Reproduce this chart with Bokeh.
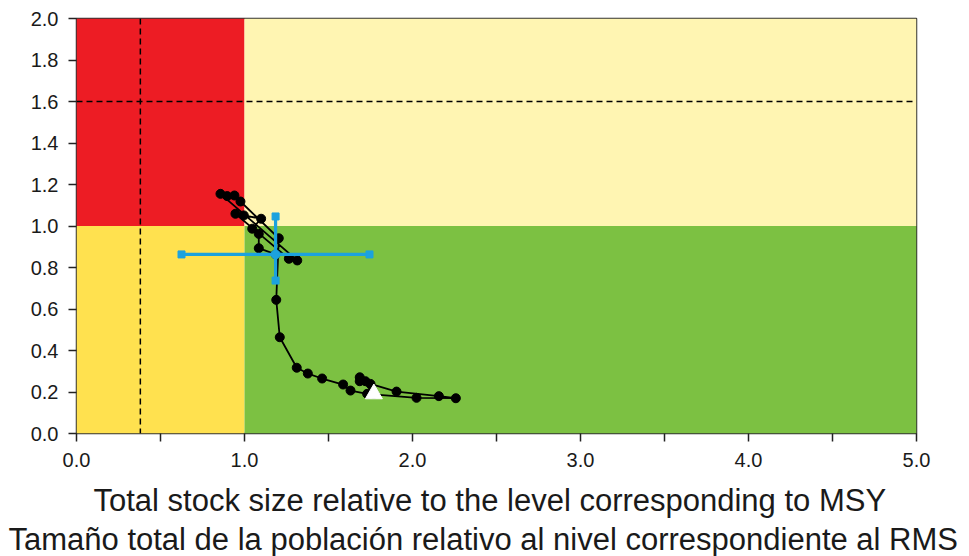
from bokeh.plotting import figure
from bokeh.models import Range1d, FixedTicker, Span, Title
from bokeh.embed import file_html
from bokeh.resources import INLINE

# Trajectory: B/B_MSY (x) and F/F_MSY (y), in time order
b_ratio = [1.770, 1.686, 1.686, 1.720, 1.750, 1.905, 2.157, 2.258, 2.024, 1.730,
           1.631, 1.587, 1.462, 1.377, 1.311, 1.210, 1.189, 1.204, 0.976, 0.940,
           0.897, 0.857, 1.314, 1.264, 0.946, 0.996, 1.099, 1.046, 1.085, 1.085,
           1.185]
f_ratio = [0.191, 0.271, 0.252, 0.252, 0.239, 0.202, 0.180, 0.170, 0.172, 0.191,
           0.207, 0.236, 0.265, 0.289, 0.317, 0.464, 0.644, 0.941, 1.118, 1.147,
           1.144, 1.155, 0.834, 0.842, 1.059, 1.051, 1.035, 0.987, 0.962, 0.893,
           0.863]

# Current estimate and its confidence intervals
cur_b = 1.185
cur_f = 0.863
b_ci = [0.625, 1.744]
f_ci = [0.737, 1.046]

# Reference lines
b_limit = 0.38
f_limit = 1.6

x_ticks = [0, 0.5, 1, 1.5, 2, 2.5, 3, 3.5, 4, 4.5, 5]
x_labels = ["0.0", "", "1.0", "", "2.0", "", "3.0", "", "4.0", "", "5.0"]
y_ticks = [0, 0.2, 0.4, 0.6, 0.8, 1.0, 1.2, 1.4, 1.6, 1.8, 2.0]
y_labels = ["0.0", "0.2", "0.4", "0.6", "0.8", "1.0", "1.2", "1.4", "1.6", "1.8", "2.0"]

xlabel1 = "Total stock size relative to the level corresponding to MSY"
xlabel2 = "Tamaño total de la población relativo al nivel correspondiente al RMS"

FONT = "Liberation Sans"
BLUE = "#1CA2DE"
W = 965
H = 556

p = figure(width=W, height=H, output_backend="svg", toolbar_location=None,
           x_range=Range1d(0, 5), y_range=Range1d(0, 2),
           min_border_left=76, min_border_right=W - 916, min_border_top=18,
           min_border_bottom=H - 433)
p.grid.visible = False
p.outline_line_color = "#333333"
p.outline_line_width = 1.5

# Zones
p.quad(left=[0, 1, 0, 1], right=[1, 5, 1, 5], bottom=[1, 1, 0, 0], top=[2, 2, 1, 1],
       fill_color=["#ED1C24", "#FFF5B2", "#FFE14F", "#7CC142"], line_color=None)

p.add_layout(Span(location=b_limit, dimension="height", line_color="black",
                  line_width=1.5, line_dash="6 4"))
p.add_layout(Span(location=f_limit, dimension="width", line_color="black",
                  line_width=1.5, line_dash="6 4"))

# Trajectory
p.line(b_ratio, f_ratio, line_color="black", line_width=1.8)
p.scatter(b_ratio, f_ratio, size=9, fill_color="black", line_color="black")
p.scatter([b_ratio[0]], [f_ratio[0]], marker="triangle", size=17,
          fill_color="white", line_color="white")

# Confidence intervals
p.segment(x0=[b_ci[0], cur_b], y0=[cur_f, f_ci[0]], x1=[b_ci[1], cur_b], y1=[cur_f, f_ci[1]],
          line_color=BLUE, line_width=3.2)
p.scatter([b_ci[0], b_ci[1], cur_b, cur_b], [cur_f, cur_f, f_ci[0], f_ci[1]],
          marker="square", size=7, fill_color=BLUE, line_color=BLUE)
p.scatter([cur_b], [cur_f], size=9, fill_color=BLUE, line_color=BLUE)

# Axes
for ax, ticks, labels in ((p.xaxis[0], x_ticks, x_labels), (p.yaxis[0], y_ticks, y_labels)):
    ax.ticker = FixedTicker(ticks=ticks)
    ax.major_label_overrides = {float(t): l for t, l in zip(ticks, labels)}
    ax.minor_tick_line_color = None
    ax.major_tick_in = 0
    ax.major_tick_out = 8
    ax.major_tick_line_width = 1.5
    ax.major_tick_line_color = "#222222"
    ax.axis_line_color = None
    ax.major_label_text_font = FONT
    ax.major_label_text_font_size = "20px"
    ax.major_label_text_color = "#1a1a1a"
p.xaxis.major_label_standoff = 11
p.yaxis.major_label_standoff = 10

# Axis title in two languages
for txt, so, off in ((xlabel1, 22, 17), (xlabel2, -18, -68)):
    p.add_layout(Title(text=txt, align="left", offset=off, standoff=so,
                       text_font=FONT, text_font_size="31px", text_font_style="normal",
                       text_color="#1a1a1a"), "below")

open("out.html", "w").write(file_html(p, INLINE))
